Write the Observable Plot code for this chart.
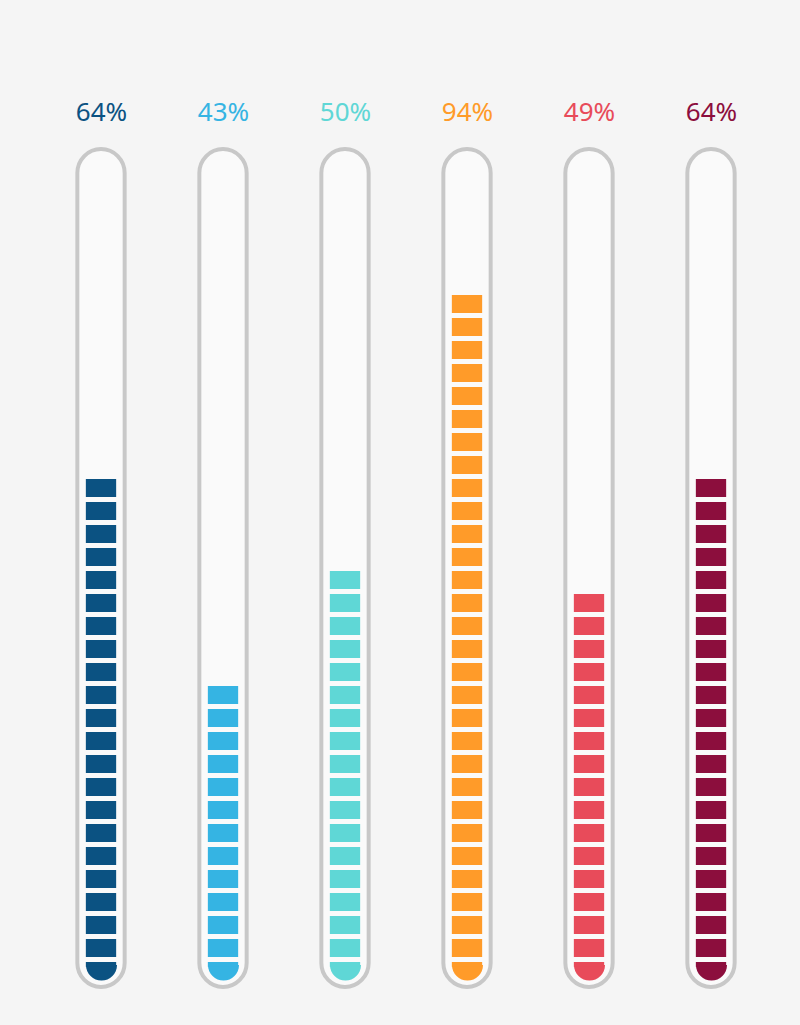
<!DOCTYPE html>
<html>
<head>
<meta charset="utf-8">
<script src="https://cdn.jsdelivr.net/npm/d3@7"></script>
<script src="https://cdn.jsdelivr.net/npm/@observablehq/plot@0.6"></script>
<style>
  html, body { margin: 0; padding: 0; background: #f5f5f5; }
  #chart svg { display: block; }
</style>
</head>
<body>
<div id="chart"></div>
<script>
// ---- data ----
const tubes = ["t1", "t2", "t3", "t4", "t5", "t6"];
const percentages = [64, 43, 50, 94, 49, 64];
const segmentCounts = [22, 13, 18, 30, 17, 22];
const colors = ["#0b5282", "#35b4e3", "#5fd7d6", "#ff9b29", "#e84b5a", "#8c0e3d"];

// derived tables
const tubeRows = tubes.map((t, k) => ({tube: t, label: percentages[k] + "%"}));
const segRows = [];
tubes.forEach((t, k) => {
  for (let i = 1; i < segmentCounts[k]; i++) segRows.push({tube: t, i});
});
const baseRows = tubes.map(t => ({tube: t}));

const TUBE_BOTTOM = -0.3, TUBE_TOP = 36.13;
const HALF = 15.5 / 23; // half segment width in y units (23px per unit)

// lower half-disk symbol for the rounded bottom segment
const halfDisk = {
  draw(context, size) {
    const r = Math.sqrt(size / Math.PI);
    context.moveTo(r, 0);
    context.arc(0, 0, r, 0, Math.PI);
    context.closePath();
  }
};

const chart = Plot.plot({
  width: 800,
  height: 1025,
  margin: 0,
  style: {background: "#f5f5f5", fontFamily: "'Noto Sans', sans-serif"},
  x: {domain: tubes, range: [38.25, 774.45], padding: 0, axis: null},
  y: {domain: [0, 36], range: [980, 152], axis: null},
  color: {domain: tubes, range: colors},
  marks: [
    // tube outlines
    Plot.barY(tubeRows, {
      x: "tube", y1: () => TUBE_BOTTOM, y2: () => TUBE_TOP,
      insetLeft: 37.35, insetRight: 37.35,
      rx: 24, ry: 24,
      fill: "#fafafa", stroke: "#c8c8c8", strokeWidth: 4
    }),
    // stacked segments (above the bottom one)
    Plot.barY(segRows, {
      x: "tube", y1: d => d.i, y2: d => d.i + 1,
      insetTop: 5, insetLeft: 45.85, insetRight: 45.85,
      fill: "tube"
    }),
    // bottom segment: straight part + half-disk (overlapping to avoid seams)
    Plot.dot(baseRows, {
      x: "tube", y: () => HALF, r: 15.5,
      symbol: halfDisk, fill: "tube", stroke: null
    }),
    Plot.barY(baseRows, {
      x: "tube", y1: () => HALF - 0.1, y2: () => 1,
      insetTop: 5, insetLeft: 45.85, insetRight: 45.85,
      fill: "tube"
    }),
    // percentage labels
    Plot.text(tubeRows, {
      x: "tube", text: "label",
      frameAnchor: "top", dy: 102,
      fill: "tube", fontSize: 26, fontFamily: "'Noto Sans', sans-serif"
    })
  ]
});

document.getElementById("chart").appendChild(chart);
</script>
</body>
</html>
